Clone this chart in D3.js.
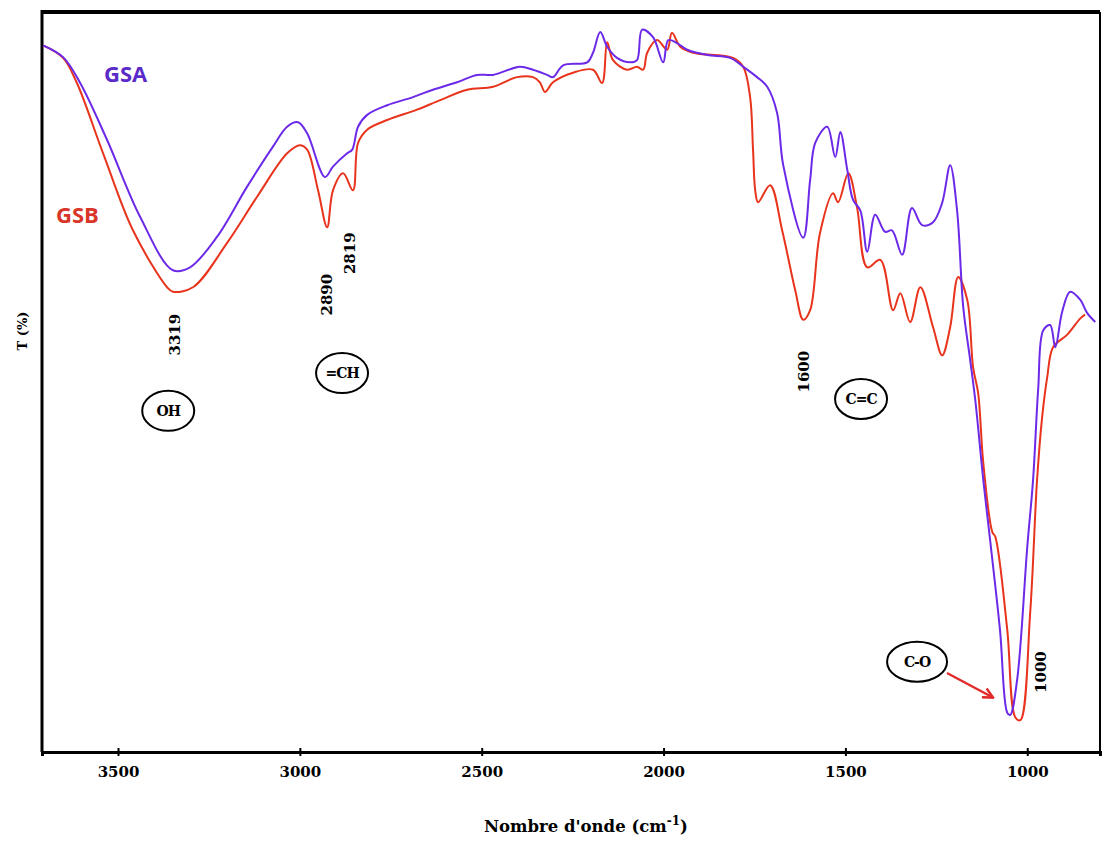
<!DOCTYPE html>
<html>
<head>
<meta charset="utf-8">
<script src="https://cdn.jsdelivr.net/npm/d3@7"></script>
<style>
  body { margin: 0; background: #fff; }
  svg { display: block; }
  .tick text { font-family: "DejaVu Serif", serif; font-weight: bold; font-size: 15px; }
</style>
</head>
<body>
<svg id="chart" width="1103" height="841"></svg>
<script>
// FTIR spectra, wavenumber (cm-1) vs transmittance (%)
let gsaWave = [3706,3651,3604,3530,3439,3349,3302,3228,3145,3074,3035,3005,2980,2931,2909,2870,2856,2840,2815,2760,2689,2634,2568,2513,2469,2395,2359,2320,2304,2276,2210,2194,2174,2155,2128,2092,2073,2059,2029,2001,1987,1963,1935,1880,1817,1781,1743,1715,1688,1671,1616,1597,1583,1550,1528,1514,1495,1479,1459,1440,1418,1391,1372,1344,1317,1289,1259,1234,1212,1193,1176,1157,1143,1121,1102,1075,1055,1047,1028,1000,984,970,956,937,923,904,882,854,835,813];
let gsaT    = [95.5,93.9,90.4,82.7,72.3,65.1,65.5,69.6,76.4,81.8,84.5,85.1,83.6,77.7,79.1,80.9,81.4,84.5,86.1,87.4,88.5,89.5,90.5,91.5,91.5,92.6,92.2,91.5,91.2,92.8,93.2,94.5,97.3,95.3,93.8,93.2,93.5,97.6,96.6,93.2,96.2,95.8,94.9,94.2,93.8,92.6,91.2,89.9,86.4,79.3,69.5,77.3,82.3,84.5,80.4,83.8,78.7,74.6,73.2,67.6,72.6,70.3,70.5,67.2,73.5,71.2,71.6,74.2,79.3,73.2,60.1,53.0,47.6,36.8,28.6,16.5,5.3,5.0,9.7,27.7,36.8,49.0,57.0,57.7,54.7,59.5,62.2,61.1,59.3,58.1];

let gsbWave = [3706,3651,3613,3541,3459,3365,3349,3294,3200,3118,3035,3000,2980,2950,2925,2909,2881,2854,2840,2815,2760,2678,2614,2540,2469,2403,2359,2340,2326,2304,2249,2194,2169,2155,2139,2100,2073,2056,2045,2018,1990,1977,1954,1919,1809,1781,1762,1754,1748,1740,1707,1674,1638,1616,1597,1570,1534,1520,1492,1468,1440,1404,1369,1349,1322,1294,1259,1234,1212,1190,1165,1149,1135,1121,1096,1088,1055,1033,1019,992,973,959,945,929,890,854,841];
let gsbT    = [95.5,93.8,90.4,80.9,70.5,62.8,62.2,62.8,68.8,75.0,80.9,82.0,81.4,75.9,70.9,75.9,78.2,75.9,82.3,84.1,85.4,86.8,88.1,89.5,89.9,91.2,91.2,90.5,89.2,90.5,91.8,92.2,90.4,95.9,93.5,92.2,92.6,92.2,94.5,96.2,94.9,97.2,95.3,94.5,93.8,92.6,88.5,81.4,75.9,74.3,76.6,70.5,62.4,58.4,59.7,70.1,75.5,74.3,78.2,73.6,65.5,66.5,59.7,62.0,58.1,62.8,57.4,53.6,57.4,64.2,61.1,52.0,48.5,39.1,29.7,29.1,16.5,4.7,4.3,18.8,36.8,45.3,50.7,54.7,56.4,58.6,59.1];

let tickValues = [3500, 3000, 2500, 2000, 1500, 1000];

let peakLabels = ["3319", "2890", "2819", "1600", "1000"];
let peakWave   = [3343, 2925, 2862, 1614, 962];
let peakT      = [56.4, 61.8, 67.4, 51.4, 10.8];

let groupLabels = ["OH", "=CH", "C=C", "C-O"];
let groupWave   = [3362, 2884, 1457, 1303];
let groupT      = [46.1, 51.2, 47.7, 12.2];

let purple = "#6c2ae8";
let red = "#e8341c";

let svg = d3.select("#chart");

let x = d3.scaleLinear().domain([3709, 800]).range([42, 1100]);
let y = d3.scaleLinear().domain([0, 100]).range([752, 12]);

// frame
svg.append("line").attr("x1", 42).attr("x2", 1100).attr("y1", 12).attr("y2", 12)
   .attr("stroke", "#000").attr("stroke-width", 4);
svg.append("line").attr("x1", 1100).attr("x2", 1100).attr("y1", 12).attr("y2", 752)
   .attr("stroke", "#000").attr("stroke-width", 2);
svg.append("line").attr("x1", 42).attr("x2", 42).attr("y1", 10).attr("y2", 752)
   .attr("stroke", "#000").attr("stroke-width", 3);

// bottom axis
let xAxis = svg.append("g")
  .attr("transform", "translate(0,752)")
  .call(d3.axisBottom(x).tickValues(tickValues).tickSize(4).tickPadding(10).tickFormat(d3.format("d")));
xAxis.select(".domain").attr("stroke", "#000").attr("stroke-width", 3);
xAxis.selectAll(".tick line").attr("stroke-width", 2).attr("y1", -4);

// axis titles
let title = svg.append("text")
  .attr("x", 484).attr("y", 832)
  .attr("font-family", "DejaVu Serif, serif").attr("font-weight", "bold").attr("font-size", 16.5);
title.append("tspan").text("Nombre d'onde (cm");
title.append("tspan").text("-1").attr("dy", -7).attr("font-size", 12);
title.append("tspan").text(")").attr("dy", 7);

svg.append("text")
  .attr("transform", "translate(27,331) rotate(-90)")
  .attr("text-anchor", "middle")
  .attr("font-family", "DejaVu Serif, serif").attr("font-weight", "bold").attr("font-size", 13)
  .text("T (%)");

// spectra
let line = d3.line()
  .x(d => x(d[0]))
  .y(d => y(d[1]))
  .curve(d3.curveCatmullRom.alpha(0.5));

svg.append("path")
  .datum(gsbWave.map((w, i) => [w, gsbT[i]]))
  .attr("fill", "none").attr("stroke", red).attr("stroke-width", 2)
  .attr("d", line);

svg.append("path")
  .datum(gsaWave.map((w, i) => [w, gsaT[i]]))
  .attr("fill", "none").attr("stroke", purple).attr("stroke-width", 2)
  .attr("d", line);

// series names
svg.append("text").attr("x", 104).attr("y", 82)
  .attr("font-family", "Open Sans, sans-serif").attr("font-weight", "bold").attr("font-size", 22)
  .attr("fill", "#5b2bc9").text("GSA");
svg.append("text").attr("x", 56).attr("y", 223)
  .attr("font-family", "Open Sans, sans-serif").attr("font-weight", "bold").attr("font-size", 22)
  .attr("fill", "#d9362a").text("GSB");

// peak wavenumbers
svg.selectAll(".peak")
  .data(peakLabels)
  .enter()
  .append("text")
  .attr("class", "peak")
  .attr("transform", (d, i) => "translate(" + x(peakWave[i]) + "," + y(peakT[i]) + ") rotate(-90)")
  .attr("text-anchor", "middle")
  .attr("dy", "0.35em")
  .attr("font-family", "DejaVu Serif, serif").attr("font-weight", "bold").attr("font-size", 15)
  .text(d => d);

// functional groups in ovals
let groups = svg.selectAll(".grp")
  .data(groupLabels)
  .enter()
  .append("g")
  .attr("class", "grp")
  .attr("transform", (d, i) => "translate(" + x(groupWave[i]) + "," + y(groupT[i]) + ")");

groups.append("ellipse")
  .attr("rx", (d, i) => i == 3 ? 30 : 26)
  .attr("ry", 20)
  .attr("fill", "#fff").attr("stroke", "#000").attr("stroke-width", 2);

groups.append("text")
  .attr("text-anchor", "middle").attr("dy", "0.36em")
  .attr("font-family", "DejaVu Serif, serif").attr("font-weight", "bold").attr("font-size", 14)
  .attr("letter-spacing", -1)
  .text(d => d);

// arrow pointing at the C-O band
svg.append("defs").append("marker")
  .attr("id", "arrow").attr("viewBox", "0 0 10 10")
  .attr("refX", 8).attr("refY", 5)
  .attr("markerWidth", 5).attr("markerHeight", 5)
  .attr("orient", "auto")
  .append("path").attr("d", "M1,1 L9,5 L1,9").attr("fill", "none").attr("stroke", "#e22a2a").attr("stroke-width", 2);

svg.append("line")
  .attr("x1", 947).attr("y1", 673).attr("x2", 992).attr("y2", 697)
  .attr("stroke", "#e22a2a").attr("stroke-width", 2.5)
  .attr("marker-end", "url(#arrow)");
</script>
</body>
</html>
